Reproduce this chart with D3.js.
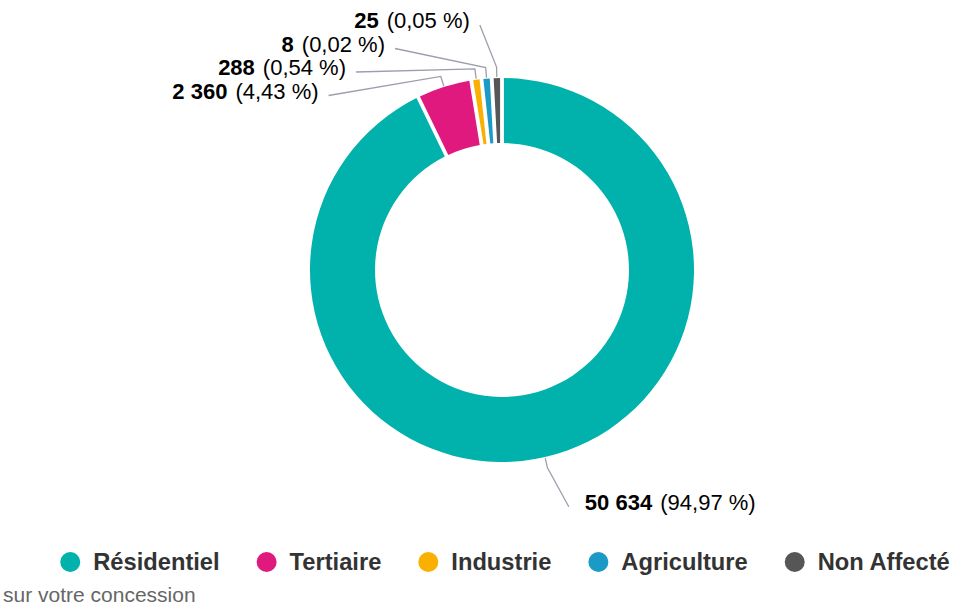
<!DOCTYPE html>
<html>
<head>
<meta charset="utf-8">
<script src="https://cdn.jsdelivr.net/npm/d3@7"></script>
<style>
  body { margin: 0; background: #fff; }
  svg { display: block; font-family: "Liberation Sans", Arial, Helvetica, sans-serif; }
</style>
</head>
<body>
<svg id="chart" width="956" height="609"></svg>
<script>
// data
const categories = ["Résidentiel", "Tertiaire", "Industrie", "Agriculture", "Non Affecté"];
const values = [50634, 2360, 288, 8, 25];
const colors = ["#00b1ac", "#e0197f", "#f9b000", "#1b9ac6", "#565656"];
const footnote = "sur votre concession";

const svg = d3.select("#chart");
const cx = 502, cy = 270;
const outerR = 192, innerR = 127;
const total = d3.sum(values);

// tiny slices get a minimum visible share (like minSize in the source chart)
const minShare = 0.0055;
const data = categories.map((c, i) => ({
  name: c, value: values[i], color: colors[i],
  shown: Math.max(values[i], total * minShare)
}));

const pie = d3.pie().sort(null).value(d => d.shown).padAngle(0.02);
const arc = d3.arc().innerRadius(innerR).outerRadius(outerR).padRadius(outerR);
const arcs = pie(data);

const g = svg.append("g").attr("transform", `translate(${cx},${cy})`);
g.selectAll("path.slice")
  .data(arcs)
  .enter()
  .append("path")
  .attr("class", "slice")
  .attr("d", arc)
  .attr("fill", d => d.data.color);

// labels
const fr = d3.formatLocale({ decimal: ",", thousands: "\u2009\u200a", grouping: [3], currency: ["", " €"] });
const fmtVal = fr.format(",d");
const fmtPct = fr.format(",.2f");

const labelR = 246, spacing = 23.5, topY = 25;
const labels = arcs.map(a => {
  const mid = (a.startAngle + a.endAngle) / 2;
  return { a, mid, left: mid > Math.PI, y: cy - labelR * Math.cos(mid) };
});

// push left-side labels apart, top to bottom
const leftLabels = labels.filter(l => l.left).sort((p, q) => q.mid - p.mid);
let prev = -Infinity;
leftLabels.forEach(l => {
  l.y = Math.max(l.y, prev + spacing, topY);
  prev = l.y;
});
labels.filter(l => !l.left).forEach(l => { l.y -= 3; });

labels.forEach(l => {
  const dy = l.y - cy;
  const dx = Math.sqrt(Math.max(labelR * labelR - dy * dy, 0));
  l.x = l.left ? cx - dx : cx + dx;
  const s = Math.sin(l.mid), c = -Math.cos(l.mid);
  const knee = [cx + (outerR + 11) * s, cy + (outerR + 11) * c];
  const edge = [cx + (outerR + 1) * s, cy + (outerR + 1) * c];

  svg.append("path")
    .attr("d", d3.line()([[l.x, l.y], knee, edge]))
    .attr("fill", "none")
    .attr("stroke", "#9e9dad")
    .attr("stroke-width", 1.3);

  const t = svg.append("text")
    .attr("x", l.left ? l.x - 10 : l.x + 16)
    .attr("y", l.y + 3)
    .attr("text-anchor", l.left ? "end" : "start")
    .attr("font-size", 22)
    .attr("fill", "#000");
  t.append("tspan").attr("font-weight", "bold").text(fmtVal(l.a.data.value));
  t.append("tspan").attr("dx", 8).text(`(${fmtPct(l.a.data.value / total * 100)} %)`);
});

// legend
const legend = svg.append("g");
let lx = 0;
data.forEach(d => {
  const item = legend.append("g").attr("transform", `translate(${lx},0)`);
  item.append("circle").attr("cx", 10).attr("cy", 562).attr("r", 10).attr("fill", d.color);
  const txt = item.append("text")
    .attr("x", 33)
    .attr("y", 570)
    .attr("font-size", 23.7)
    .attr("font-weight", "bold")
    .attr("fill", "#333")
    .text(d.name);
  lx += 33 + txt.node().getComputedTextLength() + 37;
});
const legendW = lx - 37;
legend.attr("transform", `translate(${505 - legendW / 2},0)`);

svg.append("text")
  .attr("x", 3)
  .attr("y", 602)
  .attr("font-size", 21)
  .attr("fill", "#666")
  .text(footnote);
</script>
</body>
</html>
